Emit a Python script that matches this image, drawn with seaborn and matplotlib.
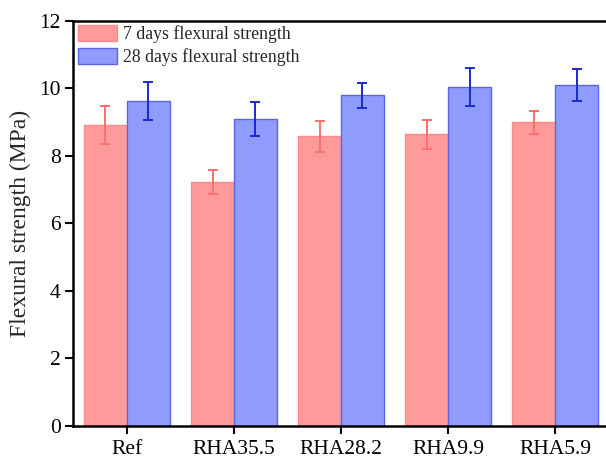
import matplotlib
matplotlib.use("Agg")
import matplotlib.pyplot as plt
import seaborn as sns
import pandas as pd
import numpy as np

categories = ["Ref", "RHA35.5", "RHA28.2", "RHA9.9", "RHA5.9"]
series_names = ["7 days flexural strength", "28 days flexural strength"]
day7_mean = [8.91, 7.22, 8.58, 8.64, 8.99]
day7_err = [0.56, 0.35, 0.46, 0.43, 0.35]
day28_mean = [9.62, 9.09, 9.79, 10.03, 10.09]
day28_err = [0.57, 0.50, 0.37, 0.57, 0.47]
yticks = [0, 2, 4, 6, 8, 10, 12]

fill_colors = ["#FE9A9A", "#8F9CFD"]
edge_colors = ["#FF8A8A", "#5A64E6"]
err_colors = ["#FF6E6E", "#1A2ACC"]

sns.set_style("ticks")
plt.rcParams["font.family"] = ["Liberation Serif", "DejaVu Serif"]

df = pd.DataFrame({
    "cat": categories * 2,
    "series": [series_names[0]] * 5 + [series_names[1]] * 5,
    "val": day7_mean + day28_mean,
})

fig = plt.figure(figsize=(6.06, 4.59), dpi=100)
W, H = 606, 459
ax = fig.add_axes([73.3 / W, 1 - 426 / H, (612 - 73.3) / W, (426 - 20.7) / H])

sns.barplot(data=df, x="cat", y="val", hue="series", order=categories,
            hue_order=series_names, palette=fill_colors, saturation=1,
            errorbar=None, width=0.8, ax=ax, linewidth=1.0)

bar_containers = list(ax.containers)
all_means = [day7_mean, day28_mean]
all_errs = [day7_err, day28_err]
for i, cont in enumerate(bar_containers):
    xs = []
    for p in cont.patches:
        p.set_edgecolor(edge_colors[i])
        xs.append(p.get_x() + p.get_width() / 2)
    ax.errorbar(xs, all_means[i], yerr=all_errs[i], fmt="none", ecolor=err_colors[i],
                elinewidth=1.4, capsize=3.7, capthick=1.4, zorder=5)

ax.set_xlim(-0.5, 4.53)
ax.set_ylim(0, 12)
ax.set_yticks(yticks)
ax.set_xlabel("")
ax.set_ylabel("Flexural strength (MPa)", fontsize=17, labelpad=6)
ax.tick_params(axis="both", labelsize=15.5, direction="out", length=6, width=1.5, colors="black")
ax.tick_params(axis="y", pad=3)
ax.tick_params(axis="x", pad=4)
for s in ["left", "bottom", "top", "right"]:
    ax.spines[s].set_visible(True)
    ax.spines[s].set_linewidth(1.8)
    ax.spines[s].set_color("black")

handles, labels = ax.get_legend_handles_labels()
for h, ec in zip(handles, edge_colors):
    h.set_edgecolor(ec)
leg = ax.legend(handles, labels, loc="upper left", frameon=False, fontsize=12.8,
                handlelength=2.2, handleheight=1.0, labelspacing=0.25,
                handletextpad=0.35, borderaxespad=0.1, borderpad=0.15)

fig.savefig("out.png", dpi=100)
